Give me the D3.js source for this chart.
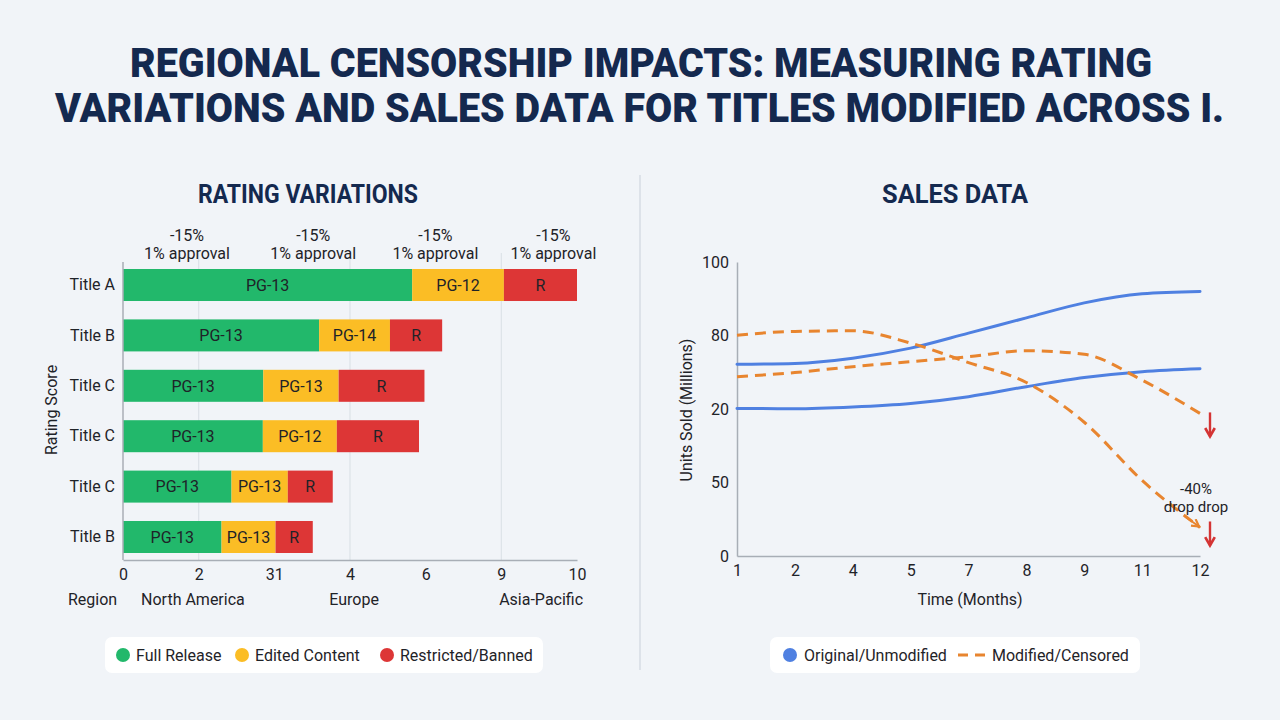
<!DOCTYPE html>
<html><head><meta charset="utf-8">
<script src="https://cdn.jsdelivr.net/npm/d3@7"></script>
<style>
html,body{margin:0;padding:0;background:#f1f4f8;}
svg{display:block;font-family:Roboto,"Noto Sans",sans-serif;}
</style></head>
<body><svg id="chart" width="1280" height="720"></svg>
<script>
// ---------- DATA ----------
const titleLines = ["REGIONAL CENSORSHIP IMPACTS: MEASURING RATING", "VARIATIONS AND SALES DATA FOR TITLES MODIFIED ACROSS I."];
const titles = ["Title A","Title B","Title C","Title C","Title C","Title B"];
const fullRelease = [6.37,4.32,3.09,3.08,2.39,2.17];
const editedContent = [2.02,1.56,1.66,1.63,1.24,1.19];
const restricted = [1.61,1.15,1.89,1.81,0.99,0.82];
const fullLabels = ["PG-13","PG-13","PG-13","PG-13","PG-13","PG-13"];
const editedLabels = ["PG-12","PG-14","PG-13","PG-12","PG-13","PG-13"];
const restrictedLabels = ["R","R","R","R","R","R"];
const ratingTickLabels = ["0","2","31","4","6","9","10"];
const regionLabels = ["North America","Europe","Asia-Pacific"];
const annotationTop = ["-15%","-15%","-15%","-15%"];
const annotationBottom = ["1% approval","1% approval","1% approval","1% approval"];
const ratingLegend = ["Full Release","Edited Content","Restricted/Banned"];

const months = ["1","2","4","5","7","8","9","11","12"];
const salesTickValues = [0,25,50,75,100];
const salesTickLabels = ["0","50","20","80","100"];
const originalA = [65.2,65.5,67.3,70.7,75.8,81.0,86.1,89.2,90.0];
const originalB = [50.2,50.1,50.7,51.9,54.2,57.6,60.7,62.7,63.7];
const modifiedA = [75.1,76.4,76.6,72.4,65.8,59.0,45.5,25.7,9.7];
const modifiedB = [61.0,62.4,64.4,66.1,67.8,69.8,68.6,59.8,48.5];
const salesLegend = ["Original/Unmodified","Modified/Censored"];

// ---------- STYLE ----------
const C = {navy:"#14294f", text:"#1f2328", green:"#22b86b", yellow:"#fbbd25", red:"#dd3636",
  blue:"#4f80e1", orange:"#e8852f", axis:"#a8aeb6", grid:"#dde2e8", arrow:"#d43434"};
const FS = 16;

const svg = d3.select("#chart");
svg.append("rect").attr("width",1280).attr("height",720).attr("fill","#f1f4f8");

// Title
const tl = [{y:77,x1:130,x2:1152},{y:122,x1:55,x2:1224}];
titleLines.forEach((t,i)=>{
  svg.append("text").attr("x",tl[i].x1).attr("y",tl[i].y)
    .attr("textLength",tl[i].x2-tl[i].x1).attr("lengthAdjust","spacingAndGlyphs")
    .attr("font-size",41).attr("font-weight",900).attr("fill",C.navy).text(t);
});

// divider
svg.append("line").attr("x1",640).attr("x2",640).attr("y1",175).attr("y2",670)
  .attr("stroke","#d6dce4").attr("stroke-width",1.5);

// ---------- LEFT: RATING VARIATIONS ----------
svg.append("text").attr("x",198).attr("y",203).attr("textLength",220).attr("lengthAdjust","spacingAndGlyphs")
  .attr("font-size",25).attr("font-weight",700).attr("fill",C.navy).text("RATING VARIATIONS");

const L = {left:123,right:577,top:262,bottom:560};
const x = d3.scaleLinear().domain([0,10]).range([L.left,L.right]);
const y = d3.scaleBand().domain(d3.range(titles.length)).range([L.top,L.bottom]).paddingInner(0.365).paddingOuter(0.139);
const tickPos = ratingTickLabels.map((d,i)=>i*10/(ratingTickLabels.length-1));

const g = svg.append("g");
g.selectAll("line.grid").data(tickPos.filter((d,i)=>i%2===1)).join("line")
  .attr("x1",d=>x(d)).attr("x2",d=>x(d)).attr("y1",253).attr("y2",L.bottom)
  .attr("stroke",C.grid).attr("stroke-width",1.2);

const series = [
  {vals:fullRelease, labels:fullLabels, color:C.green},
  {vals:editedContent, labels:editedLabels, color:C.yellow},
  {vals:restricted, labels:restrictedLabels, color:C.red}];
const stackData = titles.map((t,i)=>{
  let acc=0; return series.map(s=>{const x0=acc; acc+=s.vals[i]; return {i,x0,x1:acc,label:s.labels[i],color:s.color};});
}).flat();
g.selectAll("rect.seg").data(stackData).join("rect")
  .attr("x",d=>x(d.x0)).attr("width",d=>x(d.x1)-x(d.x0))
  .attr("y",d=>y(d.i)).attr("height",y.bandwidth()).attr("fill",d=>d.color);
g.selectAll("text.seg").data(stackData).join("text")
  .attr("x",d=>(x(d.x0)+x(d.x1))/2).attr("y",d=>y(d.i)+y.bandwidth()/2)
  .attr("dy","0.36em").attr("text-anchor","middle").attr("font-size",FS).attr("fill",C.text).text(d=>d.label);

const yAxis = g.append("g").attr("transform",`translate(${L.left},0)`)
  .call(d3.axisLeft(y).tickSize(0).tickPadding(8).tickFormat(i=>titles[i]));
yAxis.select(".domain").attr("stroke",C.axis).attr("stroke-width",1.5).attr("d",`M0,${L.top}V${L.bottom}`);
yAxis.selectAll("text").attr("font-size",FS).attr("fill",C.text).attr("font-family","Roboto");

const xAxis = g.append("g").attr("transform",`translate(0,${L.bottom})`)
  .call(d3.axisBottom(x).tickValues(tickPos).tickSize(0).tickPadding(9).tickFormat((d,i)=>ratingTickLabels[i]));
xAxis.select(".domain").attr("stroke",C.axis).attr("stroke-width",1.5);
xAxis.selectAll("text").attr("font-size",FS).attr("fill",C.text).attr("font-family","Roboto");

g.append("text").attr("x",68).attr("y",605).attr("font-size",FS).attr("fill",C.text).text("Region");
const regionPos = [1.54,5.09,9.21];
g.selectAll("text.region").data(regionLabels).join("text")
  .attr("x",(d,i)=>x(regionPos[i])).attr("y",605).attr("text-anchor","middle")
  .attr("font-size",FS).attr("fill",C.text).text(d=>d);

g.append("text").attr("transform","translate(57,410) rotate(-90)").attr("text-anchor","middle")
  .attr("font-size",FS).attr("fill",C.text).text("Rating Score");

const annPos = [1.41,4.19,6.88,9.48];
annotationTop.forEach((t,i)=>{
  g.append("text").attr("x",x(annPos[i])).attr("y",241).attr("text-anchor","middle").attr("font-size",FS).attr("fill",C.text).text(t);
  g.append("text").attr("x",x(annPos[i])).attr("y",259).attr("text-anchor","middle").attr("font-size",FS).attr("fill",C.text).text(annotationBottom[i]);
});

g.append("rect").attr("x",105).attr("y",637).attr("width",438).attr("height",36).attr("rx",7).attr("fill","#ffffff");
const legX = [123,242,387];
const legC = [C.green,C.yellow,C.red];
ratingLegend.forEach((t,i)=>{
  g.append("circle").attr("cx",legX[i]).attr("cy",655).attr("r",7).attr("fill",legC[i]);
  g.append("text").attr("x",legX[i]+13).attr("y",655).attr("dy","0.36em").attr("font-size",FS).attr("fill",C.text).text(t);
});

// ---------- RIGHT: SALES DATA ----------
svg.append("text").attr("x",882).attr("y",203).attr("textLength",146).attr("lengthAdjust","spacingAndGlyphs")
  .attr("font-size",25).attr("font-weight",700).attr("fill",C.navy).text("SALES DATA");

const R = {left:737,right:1200,top:262,bottom:556};
const sx = d3.scaleLinear().domain([0,months.length-1]).range([R.left,R.right]);
const sy = d3.scaleLinear().domain([0,100]).range([R.bottom,R.top]);
const r = svg.append("g");

const ry = r.append("g").attr("transform",`translate(${R.left},0)`)
  .call(d3.axisLeft(sy).tickValues(salesTickValues).tickSize(0).tickPadding(8).tickFormat((d,i)=>salesTickLabels[i]));
ry.select(".domain").attr("stroke",C.axis).attr("stroke-width",1.5);
ry.selectAll("text").attr("font-size",FS).attr("fill",C.text).attr("font-family","Roboto");
const rx = r.append("g").attr("transform",`translate(0,${R.bottom})`)
  .call(d3.axisBottom(sx).tickValues(d3.range(months.length)).tickSize(0).tickPadding(9).tickFormat(i=>months[i]));
rx.select(".domain").attr("stroke",C.axis).attr("stroke-width",1.5);
rx.selectAll("text").attr("font-size",FS).attr("fill",C.text).attr("font-family","Roboto");

r.append("text").attr("x",970).attr("y",605).attr("text-anchor","middle").attr("font-size",FS).attr("fill",C.text).text("Time (Months)");
r.append("text").attr("transform","translate(692,410) rotate(-90)").attr("text-anchor","middle")
  .attr("font-size",FS).attr("fill",C.text).text("Units Sold (Millions)");

const line = d3.line().x((d,i)=>sx(i)).y(d=>sy(d)).curve(d3.curveMonotoneX);
[originalA,originalB].forEach(s=>{
  r.append("path").attr("d",line(s)).attr("fill","none").attr("stroke",C.blue).attr("stroke-width",3).attr("stroke-linecap","round");
});
[modifiedA,modifiedB].forEach(s=>{
  r.append("path").attr("d",line(s)).attr("fill","none").attr("stroke",C.orange).attr("stroke-width",3)
    .attr("stroke-dasharray","11,7");
});

const defs = svg.append("defs");
function marker(id,color){
  defs.append("marker").attr("id",id).attr("viewBox","0 0 10 10").attr("refX",8).attr("refY",5)
    .attr("markerWidth",5).attr("markerHeight",5).attr("orient","auto")
    .append("path").attr("d","M1,1 L8,5 L1,9").attr("fill","none").attr("stroke",color).attr("stroke-width",2.2);
}
marker("redArrow",C.arrow); marker("orgArrow",C.orange);
const endI = months.length-1;
[modifiedB[endI], modifiedA[endI]].forEach((v,k)=>{
  const y0 = k===0 ? sy(v)-1 : sy(v)-6;
  r.append("line").attr("x1",sx(endI)+10).attr("x2",sx(endI)+10).attr("y1",y0).attr("y2",y0+24)
    .attr("stroke",C.arrow).attr("stroke-width",2.4).attr("marker-end","url(#redArrow)");
});
r.append("line").attr("x1",sx(endI)-15).attr("y1",sy(modifiedA[endI])-11).attr("x2",sx(endI)-1).attr("y2",sy(modifiedA[endI])-1)
  .attr("stroke",C.orange).attr("stroke-width",2).attr("marker-end","url(#orgArrow)");
r.append("text").attr("x",1196).attr("y",494).attr("text-anchor","middle").attr("font-size",15).attr("fill",C.text).text("-40%");
r.append("text").attr("x",1196).attr("y",512).attr("text-anchor","middle").attr("font-size",15).attr("fill",C.text).text("drop drop");

r.append("rect").attr("x",770).attr("y",637).attr("width",370).attr("height",36).attr("rx",7).attr("fill","#ffffff");
r.append("circle").attr("cx",790).attr("cy",655).attr("r",7).attr("fill",C.blue);
r.append("text").attr("x",804).attr("y",655).attr("dy","0.36em").attr("font-size",FS).attr("fill",C.text).text(salesLegend[0]);
r.append("line").attr("x1",958).attr("x2",986).attr("y1",655).attr("y2",655).attr("stroke",C.orange)
  .attr("stroke-width",3).attr("stroke-dasharray","10,7");
r.append("text").attr("x",992).attr("y",655).attr("dy","0.36em").attr("font-size",FS).attr("fill",C.text).text(salesLegend[1]);
</script></body></html>
